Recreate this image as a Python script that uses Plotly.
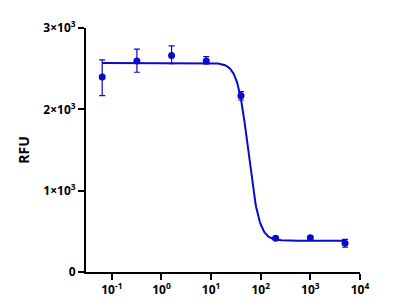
import numpy as np
import plotly.graph_objects as go

# Data
conc = [0.064, 0.32, 1.6, 8, 40, 200, 1000, 5000]
rfu = [2398, 2595, 2661, 2595, 2168, 414, 422, 353]
err_plus = [209, 145, 119, 53, 50, 15, 15, 49]
err_minus = [230, 139, 98, 35, 53, 15, 15, 49]

# 4PL fit parameters (estimated from the drawn curve)
fit_top = 2571
fit_bottom = 385
fit_log_ic50 = 1.75
fit_hill = 4.0

x_tickvals = [0.1, 1, 10, 100, 1000, 10000]
x_ticktext = ["10<sup>-1</sup>", "10<sup>0</sup>", "10<sup>1</sup>", "10<sup>2</sup>",
              "10<sup>3</sup>", "10<sup>4</sup>"]
y_tickvals = [0, 1000, 2000, 3000]
y_ticktext = ["0", "1×10<sup>3</sup>", "2×10<sup>3</sup>", "3×10<sup>3</sup>"]

blue = "#0a0acd"

lx = np.linspace(np.log10(conc[0]), np.log10(conc[-1]), 400)
curve_x = 10 ** lx
curve_y = fit_bottom + (fit_top - fit_bottom) / (1 + 10 ** (fit_hill * (lx - fit_log_ic50)))

fig = go.Figure()
fig.add_trace(go.Scatter(x=curve_x, y=curve_y, mode="lines",
                         line=dict(color=blue, width=2), hoverinfo="skip"))
fig.add_trace(go.Scatter(
    x=conc, y=rfu, mode="markers",
    marker=dict(color=blue, size=7),
    error_y=dict(type="data", symmetric=False, array=err_plus, arrayminus=err_minus,
                 color=blue, thickness=1.2, width=3),
))

font_fam = "Open Sans, Noto Sans, sans-serif"
fig.update_layout(
    width=400, height=300,
    margin=dict(l=86, r=40, t=28, b=28),
    paper_bgcolor="white", plot_bgcolor="white",
    showlegend=False,
    font=dict(family=font_fam, color="black", size=12, weight="bold"),
    xaxis=dict(type="log", range=[-1.52, 4.0], tickvals=x_tickvals, ticktext=x_ticktext,
               automargin=False,
               showgrid=False, zeroline=False, showline=True, linecolor="black", linewidth=2,
               ticks="outside", ticklen=6, tickwidth=2, tickcolor="black",
               tickfont=dict(size=12, family=font_fam, weight="bold")),
    yaxis=dict(range=[0, 3000], tickvals=y_tickvals, ticktext=y_ticktext,
               automargin=False,
               showgrid=False, zeroline=False, showline=True, linecolor="black", linewidth=2,
               ticks="outside", ticklen=6, tickwidth=2, tickcolor="black",
               tickfont=dict(size=12, family=font_fam, weight="bold"),
               title=dict(text="RFU", font=dict(size=14, family=font_fam, weight="bold"),
                          standoff=10)),
)

fig.write_html("out.html")
